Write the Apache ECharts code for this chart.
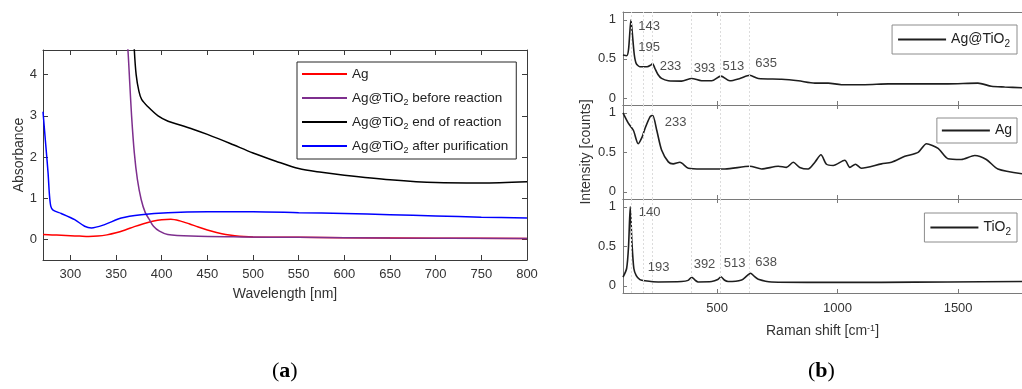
<!DOCTYPE html>
<html>
<head>
<meta charset="utf-8">
<script src="https://cdn.jsdelivr.net/npm/echarts@6/dist/echarts.min.js"></script>
<style>
html, body { margin: 0; padding: 0; background: #fff; }
#chart { width: 1022px; height: 389px; }
</style>
</head>
<body>
<div id="chart"></div>
<script>
// (a) UV-Vis absorbance spectra
const wlTicks = [300, 350, 400, 450, 500, 550, 600, 650, 700, 750, 800];
const absTicks = [0, 1, 2, 3, 4];

const agWl = [270, 280, 290, 300, 310, 320, 330, 340, 350, 360, 370, 380, 390, 400, 410, 420, 430, 440, 450, 460, 470, 480, 490, 500, 550, 600, 700, 800];
const agAbs = [0.12, 0.11, 0.10, 0.09, 0.08, 0.07, 0.08, 0.11, 0.16, 0.23, 0.31, 0.38, 0.44, 0.48, 0.49, 0.45, 0.38, 0.30, 0.23, 0.17, 0.12, 0.09, 0.07, 0.06, 0.05, 0.04, 0.03, 0.02];

const beforeWl = [360, 363, 365, 367, 370, 373.4, 377.5, 382, 386.5, 391, 397.5, 406.6, 432, 487, 550, 650, 800];
const beforeAbs = [5.4, 4.6, 3.8, 3.0, 2.1, 1.45, 0.97, 0.65, 0.48, 0.32, 0.2, 0.12, 0.08, 0.06, 0.05, 0.035, 0.02];

const endWl = [368, 370, 372, 375, 378, 385, 396, 407, 420, 435, 450, 475, 500, 525, 550, 575, 600, 650, 700, 750, 800];
const endAbs = [5.6, 4.6, 4.0, 3.6, 3.4, 3.22, 3.0, 2.87, 2.78, 2.67, 2.55, 2.33, 2.1, 1.9, 1.72, 1.63, 1.56, 1.45, 1.38, 1.37, 1.4];

const afterWl = [270, 273, 275.6, 277, 278.5, 281, 290, 304.7, 315.6, 323, 337.5, 355.7, 377.5, 406.7, 450, 500, 550, 600, 650, 700, 750, 800];
const afterAbs = [3.1, 2.3, 1.6, 1.1, 0.81, 0.71, 0.63, 0.48, 0.32, 0.28, 0.36, 0.52, 0.6, 0.65, 0.67, 0.67, 0.65, 0.63, 0.6, 0.57, 0.54, 0.52];

const uvNames = ['Ag', 'Ag@TiO2 before reaction', 'Ag@TiO2 end of reaction', 'Ag@TiO2 after purification'];
const uvColors = ['#ff0000', '#7e2f8e', '#000000', '#0000ff'];

// (b) Raman spectra
const ramanTicks = [500, 1000, 1500];
const intensityTicks = [0, 0.5, 1];
const peakLines = [143, 195, 233, 393, 513, 635];

const agTiO2Shift = [110, 125, 133, 143, 150, 157, 165, 180, 210, 225, 233, 242, 255, 270, 298, 353, 395, 436, 478, 516, 553, 595, 636, 671, 768, 837, 906, 961, 1016, 1113, 1210, 1320, 1458, 1582, 1638, 1693, 1765];
const agTiO2Int = [0.55, 0.54, 0.62, 1.0, 0.78, 0.55, 0.44, 0.40, 0.40, 0.42, 0.44, 0.38, 0.30, 0.25, 0.22, 0.215, 0.25, 0.22, 0.22, 0.28, 0.22, 0.25, 0.29, 0.25, 0.24, 0.22, 0.19, 0.19, 0.17, 0.17, 0.18, 0.18, 0.18, 0.19, 0.15, 0.14, 0.13];

const agShift = [110, 132, 153, 173, 190, 201, 222, 233, 250, 270, 298, 318, 346, 381, 436, 533, 636, 685, 754, 788, 816, 843, 878, 906, 931, 954, 982, 1030, 1051, 1074, 1099, 1182, 1224, 1279, 1334, 1369, 1417, 1458, 1513, 1569, 1617, 1665, 1765];
const agInt = [1.0, 0.87, 0.78, 0.61, 0.70, 0.80, 0.95, 0.97, 0.78, 0.53, 0.38, 0.355, 0.375, 0.30, 0.29, 0.29, 0.325, 0.29, 0.325, 0.31, 0.375, 0.31, 0.29, 0.375, 0.47, 0.35, 0.335, 0.40, 0.31, 0.35, 0.30, 0.355, 0.375, 0.45, 0.50, 0.61, 0.55, 0.42, 0.41, 0.46, 0.41, 0.29, 0.23];

const tiO2Shift = [110, 125, 133, 140, 147, 155, 165, 180, 201, 256, 353, 380, 395, 410, 422, 478, 503, 516, 530, 546, 602, 625, 639, 655, 671, 726, 906, 1182, 1458, 1765];
const tiO2Int = [0.11, 0.22, 0.5, 1.0, 0.55, 0.22, 0.13, 0.08, 0.065, 0.05, 0.055, 0.07, 0.11, 0.07, 0.05, 0.055, 0.08, 0.115, 0.075, 0.055, 0.075, 0.13, 0.16, 0.12, 0.085, 0.05, 0.045, 0.045, 0.05, 0.055];

// peak annotations (text, shift, intensity of label anchor)
const agTiO2PeakText = ['143', '195', '233', '393', '513', '635'];
const agTiO2PeakX = [171, 171, 260, 401, 521, 657];
const agTiO2PeakY = [0.91, 0.65, 0.40, 0.375, 0.40, 0.44];
const agPeakText = ['233'];
const agPeakX = [281];
const agPeakY = [0.88];
const tiO2PeakText = ['140', '193', '392', '513', '638'];
const tiO2PeakX = [173, 211, 401, 526, 657];
const tiO2PeakY = [0.93, 0.24, 0.27, 0.28, 0.30];

const ramanNames = ['Ag@TiO2', 'Ag (Raman)', 'TiO2'];

const pairs = (xs, ys) => xs.map((x, i) => [x, ys[i]]);
const subFmt = name => name.replace(' (Raman)', '').replace('TiO2', 'TiO{sub|2}');

const leftAxis = '#3a3a3a';
const rightAxis = '#7a7a7a';
const labelColor = '#333';

const chart = echarts.init(document.getElementById('chart'));

const uvX = (top) => ({
	gridIndex: 0, type: 'value', min: 270, max: 800, position: top ? 'top' : 'bottom',
	name: top ? '' : 'Wavelength [nm]', nameLocation: 'middle', nameGap: 27,
	nameTextStyle: { fontSize: 14, color: labelColor },
	axisLine: { show: true, onZero: false, lineStyle: { color: leftAxis } },
	axisTick: { show: true, inside: true, length: 5, customValues: wlTicks, lineStyle: { color: leftAxis } },
	axisLabel: { show: !top, customValues: wlTicks, fontSize: 13, color: labelColor, margin: 8 },
	splitLine: { show: false }
});

const ramanX = (grid, top, withLabels) => ({
	gridIndex: grid, type: 'value', min: 110, max: 1765, position: top ? 'top' : 'bottom',
	name: withLabels ? 'Raman shift [cm{sup|-1}]' : '', nameLocation: 'middle', nameGap: 31,
	nameTextStyle: { fontSize: 14, color: labelColor, rich: { sup: { fontSize: 9, lineHeight: 12, verticalAlign: 'top', color: labelColor } } },
	axisLine: { show: true, onZero: false, lineStyle: { color: rightAxis } },
	axisTick: { show: true, inside: true, length: 4, customValues: ramanTicks, lineStyle: { color: rightAxis } },
	axisLabel: { show: withLabels, customValues: ramanTicks, fontSize: 13, color: labelColor, margin: 9, formatter: v => String(v) },
	splitLine: { show: false }
});

const ramanY = (grid, withName) => ({
	gridIndex: grid, type: 'value', min: -0.09, max: 1.1,
	name: withName ? 'Intensity [counts]' : '', nameLocation: 'middle', nameGap: 30,
	nameTextStyle: { fontSize: 14, color: labelColor },
	axisLine: { show: true, onZero: false, lineStyle: { color: rightAxis } },
	axisTick: { show: true, inside: true, length: 4, customValues: intensityTicks, lineStyle: { color: rightAxis } },
	axisLabel: { customValues: intensityTicks, fontSize: 13, color: labelColor, margin: 7 },
	splitLine: { show: false }
});

const peakMarks = {
	silent: true, symbol: 'none', label: { show: false },
	lineStyle: { type: [2, 2], color: '#dcdcdc', width: 1 },
	data: peakLines.map(v => ({ xAxis: v }))
};

const ramanSeries = (name, xs, ys, axis) => ({
	name, type: 'line', xAxisIndex: axis.x, yAxisIndex: axis.y,
	data: pairs(xs, ys), symbol: 'none', smooth: 0.25, clip: true,
	lineStyle: { color: '#1e1e1e', width: 1.6 }, itemStyle: { color: '#1e1e1e' },
	markLine: peakMarks, z: 3
});

const peakSeries = (texts, xs, ys, axis) => ({
	type: 'scatter', xAxisIndex: axis.x, yAxisIndex: axis.y, silent: true,
	symbolSize: 1, itemStyle: { color: 'rgba(0,0,0,0)' },
	data: xs.map((x, i) => [x, ys[i], texts[i]]),
	label: { show: true, position: 'right', distance: 0, fontSize: 13, color: '#222', formatter: p => p.value[2] }
});

const uvSeries = (i, xs, ys) => ({
	name: uvNames[i], type: 'line', xAxisIndex: 0, yAxisIndex: 0,
	data: pairs(xs, ys), symbol: 'none', smooth: 0.3, clip: true,
	lineStyle: { color: uvColors[i], width: 1.5 }, itemStyle: { color: uvColors[i] }
});

const legendBase = {
	orient: 'vertical', backgroundColor: '#fff', borderWidth: 1,
	selectedMode: false, formatter: subFmt, icon: 'rect', itemHeight: 2
};

const option = {
	animation: false,
	textStyle: { fontFamily: 'Liberation Sans, Arial, sans-serif' },
	title: [
		{ text: '({b|a})', left: 272, top: 360, padding: 0,
			textStyle: { fontFamily: 'Liberation Serif', fontSize: 22, fontWeight: 'normal', color: '#000',
				rich: { b: { fontFamily: 'Liberation Serif', fontSize: 22, fontWeight: 'bold', color: '#000' } } } },
		{ text: '({b|b})', left: 808, top: 360, padding: 0,
			textStyle: { fontFamily: 'Liberation Serif', fontSize: 22, fontWeight: 'normal', color: '#000',
				rich: { b: { fontFamily: 'Liberation Serif', fontSize: 22, fontWeight: 'bold', color: '#000' } } } }
	],
	grid: [
		{ left: 43, top: 50, width: 484, height: 210 },
		{ left: 623, right: 0, top: 12, height: 93 },
		{ left: 623, right: 0, top: 105, height: 94 },
		{ left: 623, right: 0, top: 199, height: 94 }
	],
	legend: [
		Object.assign({}, legendBase, {
			data: uvNames, left: 297, top: 62, itemWidth: 45, itemGap: 6,
			padding: [3, 8, 4, 5], borderColor: '#262626',
			textStyle: { fontSize: 13.5, color: '#222', lineHeight: 18,
				rich: { sub: { fontSize: 9, lineHeight: 10, verticalAlign: 'bottom', color: '#222' } } }
		}),
		Object.assign({}, legendBase, {
			data: [ramanNames[0]], right: 5, top: 25, itemWidth: 48,
			padding: [5, 7, 5, 6], borderColor: '#8c8c8c',
			textStyle: { fontSize: 14, color: '#222', lineHeight: 19,
				rich: { sub: { fontSize: 10, lineHeight: 11, verticalAlign: 'bottom', color: '#222' } } }
		}),
		Object.assign({}, legendBase, {
			data: [ramanNames[1]], right: 5, top: 118, itemWidth: 48,
			padding: [4, 5, 4, 5], borderColor: '#8c8c8c',
			textStyle: { fontSize: 14, color: '#222', lineHeight: 17 }
		}),
		Object.assign({}, legendBase, {
			data: [ramanNames[2]], right: 5, top: 213, itemWidth: 48,
			padding: [5, 6, 5, 6], borderColor: '#8c8c8c',
			textStyle: { fontSize: 14, color: '#222', lineHeight: 19,
				rich: { sub: { fontSize: 10, lineHeight: 11, verticalAlign: 'bottom', color: '#222' } } }
		})
	],
	xAxis: [
		uvX(false), uvX(true),
		ramanX(1, false, false), ramanX(1, true, false),
		ramanX(2, false, false), ramanX(2, true, false),
		ramanX(3, false, true), ramanX(3, true, false)
	],
	yAxis: [
		{
			gridIndex: 0, type: 'value', min: -0.5, max: 4.6,
			name: 'Absorbance', nameLocation: 'middle', nameGap: 17,
			nameTextStyle: { fontSize: 14, color: labelColor },
			axisLine: { show: true, onZero: false, lineStyle: { color: leftAxis } },
			axisTick: { show: true, inside: true, length: 5, customValues: absTicks, lineStyle: { color: leftAxis } },
			axisLabel: { customValues: absTicks, fontSize: 13, color: labelColor, margin: 6 },
			splitLine: { show: false }
		},
		{
			gridIndex: 0, type: 'value', min: -0.5, max: 4.6, position: 'right',
			axisLine: { show: true, onZero: false, lineStyle: { color: leftAxis } },
			axisTick: { show: true, inside: true, length: 5, customValues: absTicks, lineStyle: { color: leftAxis } },
			axisLabel: { show: false },
			splitLine: { show: false }
		},
		ramanY(1, false), ramanY(2, true), ramanY(3, false)
	],
	series: [
		uvSeries(0, agWl, agAbs),
		uvSeries(1, beforeWl, beforeAbs),
		uvSeries(2, endWl, endAbs),
		uvSeries(3, afterWl, afterAbs),
		ramanSeries(ramanNames[0], agTiO2Shift, agTiO2Int, { x: 2, y: 2 }),
		ramanSeries(ramanNames[1], agShift, agInt, { x: 4, y: 3 }),
		ramanSeries(ramanNames[2], tiO2Shift, tiO2Int, { x: 6, y: 4 }),
		peakSeries(agTiO2PeakText, agTiO2PeakX, agTiO2PeakY, { x: 2, y: 2 }),
		peakSeries(agPeakText, agPeakX, agPeakY, { x: 4, y: 3 }),
		peakSeries(tiO2PeakText, tiO2PeakX, tiO2PeakY, { x: 6, y: 4 })
	]
};

chart.setOption(option);
</script>
</body>
</html>
